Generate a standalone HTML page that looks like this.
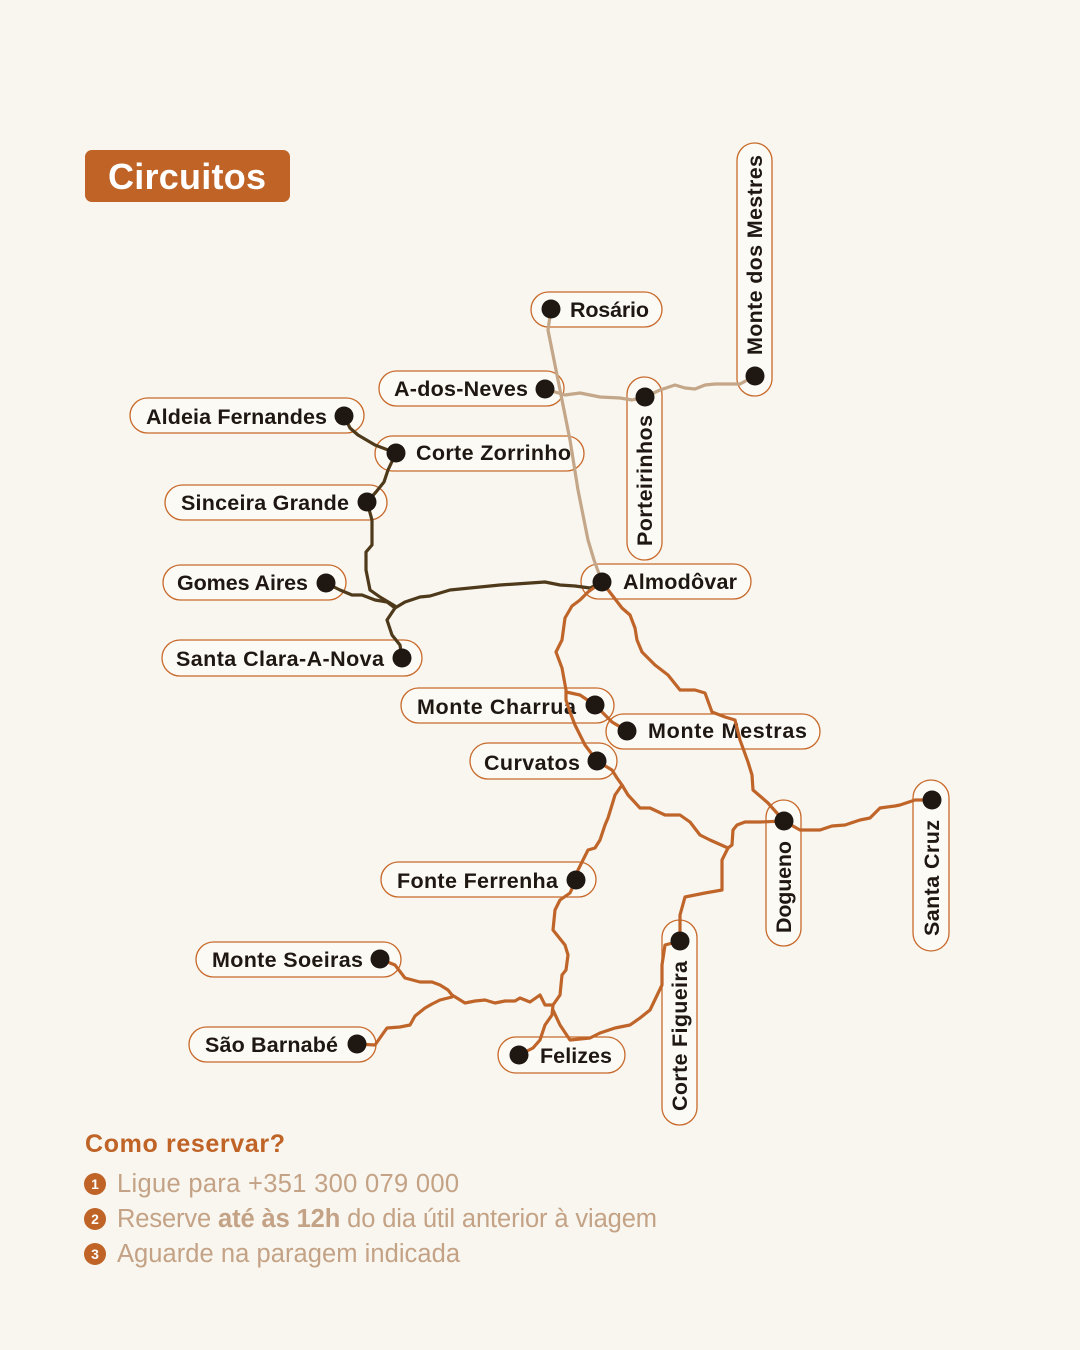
<!DOCTYPE html>
<html><head><meta charset="utf-8"><style>
html,body{margin:0;padding:0;background:#f8f6ef;}
svg{display:block;}
.l{font-family:"Liberation Sans",sans-serif;font-weight:bold;font-size:21.5px;fill:#1f1712;}
.p{fill:#fbfaf5;stroke:#c8692a;stroke-width:1.3;}
.d{fill:#1f1712;}
.ln{fill:none;stroke-width:3.2;stroke-linejoin:round;stroke-linecap:round;}
.b{font-family:"Liberation Sans",sans-serif;font-size:25.5px;fill:#c4a285;}
</style></head><body>
<svg width="1080" height="1350" viewBox="0 0 1080 1350">
<rect width="1080" height="1350" fill="#f8f6ef"/>
<rect x="85" y="150" width="205" height="52" rx="7" fill="#bf6326"/>
<text x="187" y="189" text-anchor="middle" font-family="Liberation Sans,sans-serif" font-weight="bold" font-size="36" fill="#fff" textLength="158">Circuitos</text>

<rect class="p" x="531" y="292" width="131" height="35" rx="17.5"/>
<rect class="p" x="737" y="143" width="35" height="253" rx="17.5"/>
<rect class="p" x="379" y="371" width="185" height="35" rx="17.5"/>
<rect class="p" x="627" y="377" width="35" height="183" rx="17.5"/>
<rect class="p" x="130" y="398" width="234" height="35" rx="17.5"/>
<rect class="p" x="375" y="436" width="209" height="35" rx="17.5"/>
<rect class="p" x="165" y="485" width="222" height="35" rx="17.5"/>
<rect class="p" x="163" y="565" width="183" height="35" rx="17.5"/>
<rect class="p" x="581" y="564" width="170" height="35" rx="17.5"/>
<rect class="p" x="162" y="640" width="260" height="36" rx="18"/>
<rect class="p" x="401" y="688" width="213" height="35" rx="17.5"/>
<rect class="p" x="606" y="714" width="214" height="35" rx="17.5"/>
<rect class="p" x="470" y="743" width="147" height="36" rx="18"/>
<rect class="p" x="766" y="800" width="35" height="146" rx="17.5"/>
<rect class="p" x="913" y="780" width="36" height="171" rx="18"/>
<rect class="p" x="381" y="862" width="215" height="35" rx="17.5"/>
<rect class="p" x="662" y="920" width="35" height="205" rx="17.5"/>
<rect class="p" x="196" y="942" width="205" height="35" rx="17.5"/>
<rect class="p" x="189" y="1027" width="187" height="35" rx="17.5"/>
<rect class="p" x="498" y="1037" width="127" height="36" rx="18"/>

<text class="l" x="570" y="317" textLength="79">Rosário</text>
<text class="l" x="394" y="396" textLength="134">A-dos-Neves</text>
<text class="l" x="146" y="424" textLength="181">Aldeia Fernandes</text>
<text class="l" x="416" y="460" textLength="155">Corte Zorrinho</text>
<text class="l" x="181" y="510" textLength="168">Sinceira Grande</text>
<text class="l" x="177" y="590" textLength="131">Gomes Aires</text>
<text class="l" x="623" y="589" textLength="114">Almodôvar</text>
<text class="l" x="176" y="666" textLength="208">Santa Clara-A-Nova</text>
<text class="l" x="417" y="714" textLength="159">Monte Charrua</text>
<text class="l" x="648" y="738" textLength="159">Monte Mestras</text>
<text class="l" x="484" y="770" textLength="96">Curvatos</text>
<text class="l" x="397" y="888" textLength="161">Fonte Ferrenha</text>
<text class="l" x="212" y="967" textLength="151">Monte Soeiras</text>
<text class="l" x="205" y="1052" textLength="133">São Barnabé</text>
<text class="l" x="540" y="1063" textLength="72">Felizes</text>
<text class="l" transform="translate(762,355) rotate(-90)" textLength="200">Monte dos Mestres</text>
<text class="l" transform="translate(652,546) rotate(-90)" textLength="131">Porteirinhos</text>
<text class="l" transform="translate(791,933) rotate(-90)" textLength="92">Dogueno</text>
<text class="l" transform="translate(939,936) rotate(-90)" textLength="116">Santa Cruz</text>
<text class="l" transform="translate(687,1111) rotate(-90)" textLength="150">Corte Figueira</text>

<g class="ln" stroke="#c4a688">
<polyline points="551,309 548,330 553,355 560,390 570,440 578,490 588,540 594,560 602,582"/>
<polyline points="545,389 565,395 580,393 600,397 620,398 632,400 645,397 660,390 675,385 685,388 695,389 705,385 715,384 740,384 755,376"/>
</g>
<g class="ln" stroke="#4e3a1a">
<polyline points="344,416 350,428 358,435 375,445 396,453 388,470 384,482 376,492 367,502 372,520 372,545 366,552 366,570 368,580 370,590 380,597 395,606"/>
<polyline points="326,583 340,590 352,595 362,595 375,600 387,602 395,608 405,602 420,597 430,596 450,590 470,588 500,585 545,582 560,585 575,586 590,588 602,582"/>
<polyline points="395,608 387,620 392,635 400,645 402,658"/>
</g>
<g class="ln" stroke="#c0652a">
<polyline points="602,582 588,592 580,600 572,606 565,618 562,640 556,652 562,668 566,690 566,700 570,712 575,725 585,745 597,761"/>
<polyline points="566,692 580,695 595,705 602,712 612,722 627,731"/>
<polyline points="602,582 612,595 622,608 630,615 635,628 637,640 642,652 655,665 668,675 680,690 695,690 705,693 712,712 725,717 735,720 740,740 748,762 752,775 753,790 768,803 784,821"/>
<polyline points="784,821 800,830 820,830 832,826 845,825 860,820 870,818 880,808 895,806 900,805 915,800 932,800"/>
<polyline points="597,761 612,770 617,778 622,785 628,795 640,808 650,808 665,815 680,815 690,822 700,835 710,840 728,848"/>
<polyline points="784,821 760,822 745,822 737,825 733,830 732,845 728,848 722,860 722,890 705,893 685,897 680,915 680,941"/>
<polyline points="680,941 665,945 662,965 662,985 650,1010 640,1018 630,1025 615,1028 600,1033 590,1038 570,1040 560,1025 553,1010"/>
<polyline points="622,785 615,795 612,805 608,818 605,825 600,840 595,848 588,850 583,860 578,870 576,880 570,893 560,900 555,910 553,930 565,945 568,955 566,970 562,975 560,995 553,1005 552,1015 545,1025 540,1040 533,1048 519,1055"/>
<polyline points="380,959 395,965 405,978 420,982 432,982 440,985 448,990 452,995 465,1003 475,1001 485,1000 495,1003 505,1001 515,1001 520,998 530,1002 540,995 545,1005 553,1005"/>
<polyline points="357,1044 375,1045 382,1035 387,1028 400,1027 410,1025 415,1016 425,1008 432,1004 440,1000 452,997"/>
</g>

<g class="d">
<circle cx="551" cy="309" r="9.5"/><circle cx="755" cy="376" r="9.5"/><circle cx="545" cy="389" r="9.5"/>
<circle cx="645" cy="397" r="9.5"/><circle cx="344" cy="416" r="9.5"/><circle cx="396" cy="453" r="9.5"/>
<circle cx="367" cy="502" r="9.5"/><circle cx="326" cy="583" r="9.5"/><circle cx="602" cy="582" r="9.5"/>
<circle cx="402" cy="658" r="9.5"/><circle cx="595" cy="705" r="9.5"/><circle cx="627" cy="731" r="9.5"/>
<circle cx="597" cy="761" r="9.5"/><circle cx="784" cy="821" r="9.5"/><circle cx="932" cy="800" r="9.5"/>
<circle cx="576" cy="880" r="9.5"/><circle cx="680" cy="941" r="9.5"/><circle cx="380" cy="959" r="9.5"/>
<circle cx="357" cy="1044" r="9.5"/><circle cx="519" cy="1055" r="9.5"/>
</g>

<text x="85" y="1152" font-family="Liberation Sans,sans-serif" font-weight="bold" font-size="25" fill="#bf6326" textLength="200">Como reservar?</text>
<g font-family="Liberation Sans,sans-serif" font-weight="bold" font-size="14" fill="#fff" text-anchor="middle">
<circle cx="95" cy="1184" r="11" fill="#bf6326"/><text x="95" y="1189">1</text>
<circle cx="95" cy="1219" r="11" fill="#bf6326"/><text x="95" y="1224">2</text>
<circle cx="95" cy="1254" r="11" fill="#bf6326"/><text x="95" y="1259">3</text>
</g>
<text class="b" x="117" y="1192" textLength="342">Ligue para +351 300 079 000</text>
<text class="b" x="117" y="1227" textLength="540">Reserve <tspan font-weight="bold">até às 12h</tspan> do dia útil anterior à viagem</text>
<text class="b" x="117" y="1262" textLength="343">Aguarde na paragem indicada</text>
</svg>
</body></html>
